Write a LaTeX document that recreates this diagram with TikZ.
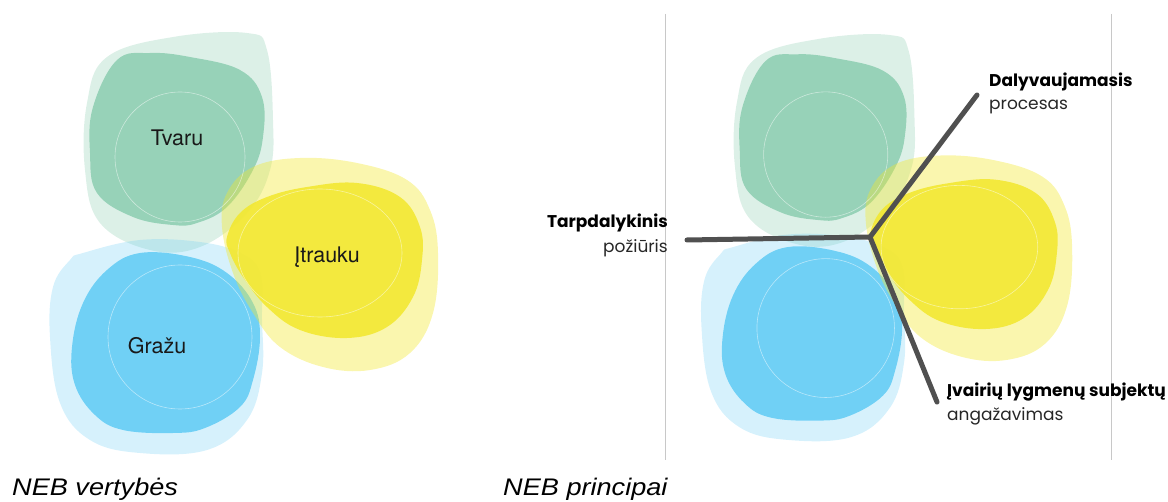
\documentclass[tikz,border=0pt]{standalone}
\usepackage{fontspec}
\newfontfamily\blobfont{TeX Gyre Heros}
\newfontfamily\labfont{Poppins}
\newfontfamily\capfont{Liberation Sans}
\definecolor{grn}{HTML}{93D0B5}
\definecolor{yel}{HTML}{F2E834}
\definecolor{blu}{HTML}{6BCEF5}
\definecolor{spoke}{HTML}{505050}
\definecolor{rule}{HTML}{C8C8C8}
\tikzset{
  outerG/.style={fill=grn, fill opacity=0.32},
  outerY/.style={fill=yel, fill opacity=0.40},
  outerB/.style={fill=blu, fill opacity=0.28},
  innerG/.style={fill=grn, fill opacity=0.95},
  innerY/.style={fill=yel, fill opacity=0.92},
  innerB/.style={fill=blu, fill opacity=0.95},
  wline/.style={draw=white, line width=0.6pt, opacity=0.5},
  blobtext/.style={font=\blobfont\fontsize{21.5}{24}\selectfont, text=black!90, anchor=base},
  spokeline/.style={draw=spoke, line width=5pt, line cap=round, line join=round},
  vrule/.style={draw=rule, line width=0.8pt},
  labbold/.style={font=\labfont\bfseries\fontsize{17}{20}\selectfont, inner sep=0pt},
  labreg/.style={font=\labfont\fontsize{17}{20}\selectfont, inner sep=0pt, text=black!85},
  captext/.style={font=\capfont\itshape\fontsize{24}{28}\selectfont, inner sep=0pt, anchor=base west, xscale=1.13}
}
\newcommand\blobgroup{%
  \fill[outerG] plot[smooth cycle, tension=0.65] coordinates {(107,57) (173,37) (247,33) (267,50) (273,120) (270,170) (247,213) (200,247) (150,250) (100,223) (85,170) (87,103)};
  \fill[innerG] plot[smooth cycle, tension=0.65] coordinates {(117,60) (150,53) (190,57) (240,70) (262,97) (263,137) (253,170) (227,207) (197,223) (173,225) (133,217) (97,193) (90,153) (93,107)};
  \fill[outerB] plot[smooth cycle, tension=0.65] coordinates {(83,253) (140,240) (200,242) (240,253) (260,273) (262,320) (262,373) (247,420) (207,450) (140,453) (90,440) (60,403) (50,337) (53,287) (70,260)};
  \fill[innerB] plot[smooth cycle, tension=0.65] coordinates {(140,253) (190,257) (227,273) (253,303) (260,337) (253,380) (240,407) (205,428) (173,433) (123,430) (95,415) (75,385) (72,347) (83,303) (107,270)};
  \fill[outerY] plot[smooth cycle, tension=0.65] coordinates {(227,193) (253,167) (300,158) (357,163) (407,180) (430,210) (438,253) (433,313) (410,353) (370,370) (323,367) (280,347) (253,313) (233,273) (222,227)};
  \fill[innerY] plot[smooth cycle, tension=0.65] coordinates {(227,237) (240,213) (267,197) (307,187) (357,183) (400,197) (420,227) (422,260) (413,297) (387,327) (347,338) (300,330) (267,307) (243,277) (230,253)};
  \draw[wline] (180,157) circle[radius=65];
  \draw[wline] (180,337) circle[radius=72];
  \draw[wline] (320,253) ellipse[x radius=82, y radius=64];
}
\begin{document}
\begin{tikzpicture}[x=1pt, y=-1pt]
\useasboundingbox (0,0) rectangle (1168,502);
% left diagram
\begin{scope}
  \blobgroup
\end{scope}
\node[blobtext] (tvaru) at (177,146) {Tvaru};
\node[blobtext] (itrauku) at (327,263) {Įtrauku};
\node[blobtext] (grazu) at (157,354) {Gražu};
% right diagram
\draw[vrule] (665,14) coordinate (vl1) -- (665,460) coordinate (vl2);
\draw[vrule] (1111,14) coordinate (vr1) -- (1111,460) coordinate (vr2);
\begin{scope}[xshift=653.8pt, yshift=-3.2pt, xscale=0.955, yscale=0.964]
  \blobgroup
\end{scope}
\coordinate (hub) at (870,237);
\coordinate (endL) at (687,240);
\coordinate (endUR) at (977,95);
\coordinate (endLR) at (937,402);
\draw[spokeline] (endL) -- (hub) -- (endUR);
\draw[spokeline] (hub) -- (endLR);
\node[labbold, anchor=base west] (dal) at (989,87) {Dalyvaujamasis};
\node[labreg, anchor=base west] (proc) at (989,110) {procesas};
\node[labbold, anchor=base east] (tarp) at (668,228) {Tarpdalykinis};
\node[labreg, anchor=base east] (poz) at (668,253) {požiūris};
\node[labbold, anchor=base west] (ivai) at (947,397) {Įvairių lygmenų subjektų};
\node[labreg, anchor=base west] (ang) at (947,421) {angažavimas};
% captions
\node[captext] (cap1) at (12,496) {NEB vertybės};
\node[captext] (cap2) at (503,496) {NEB principai};
\end{tikzpicture}
\end{document}
